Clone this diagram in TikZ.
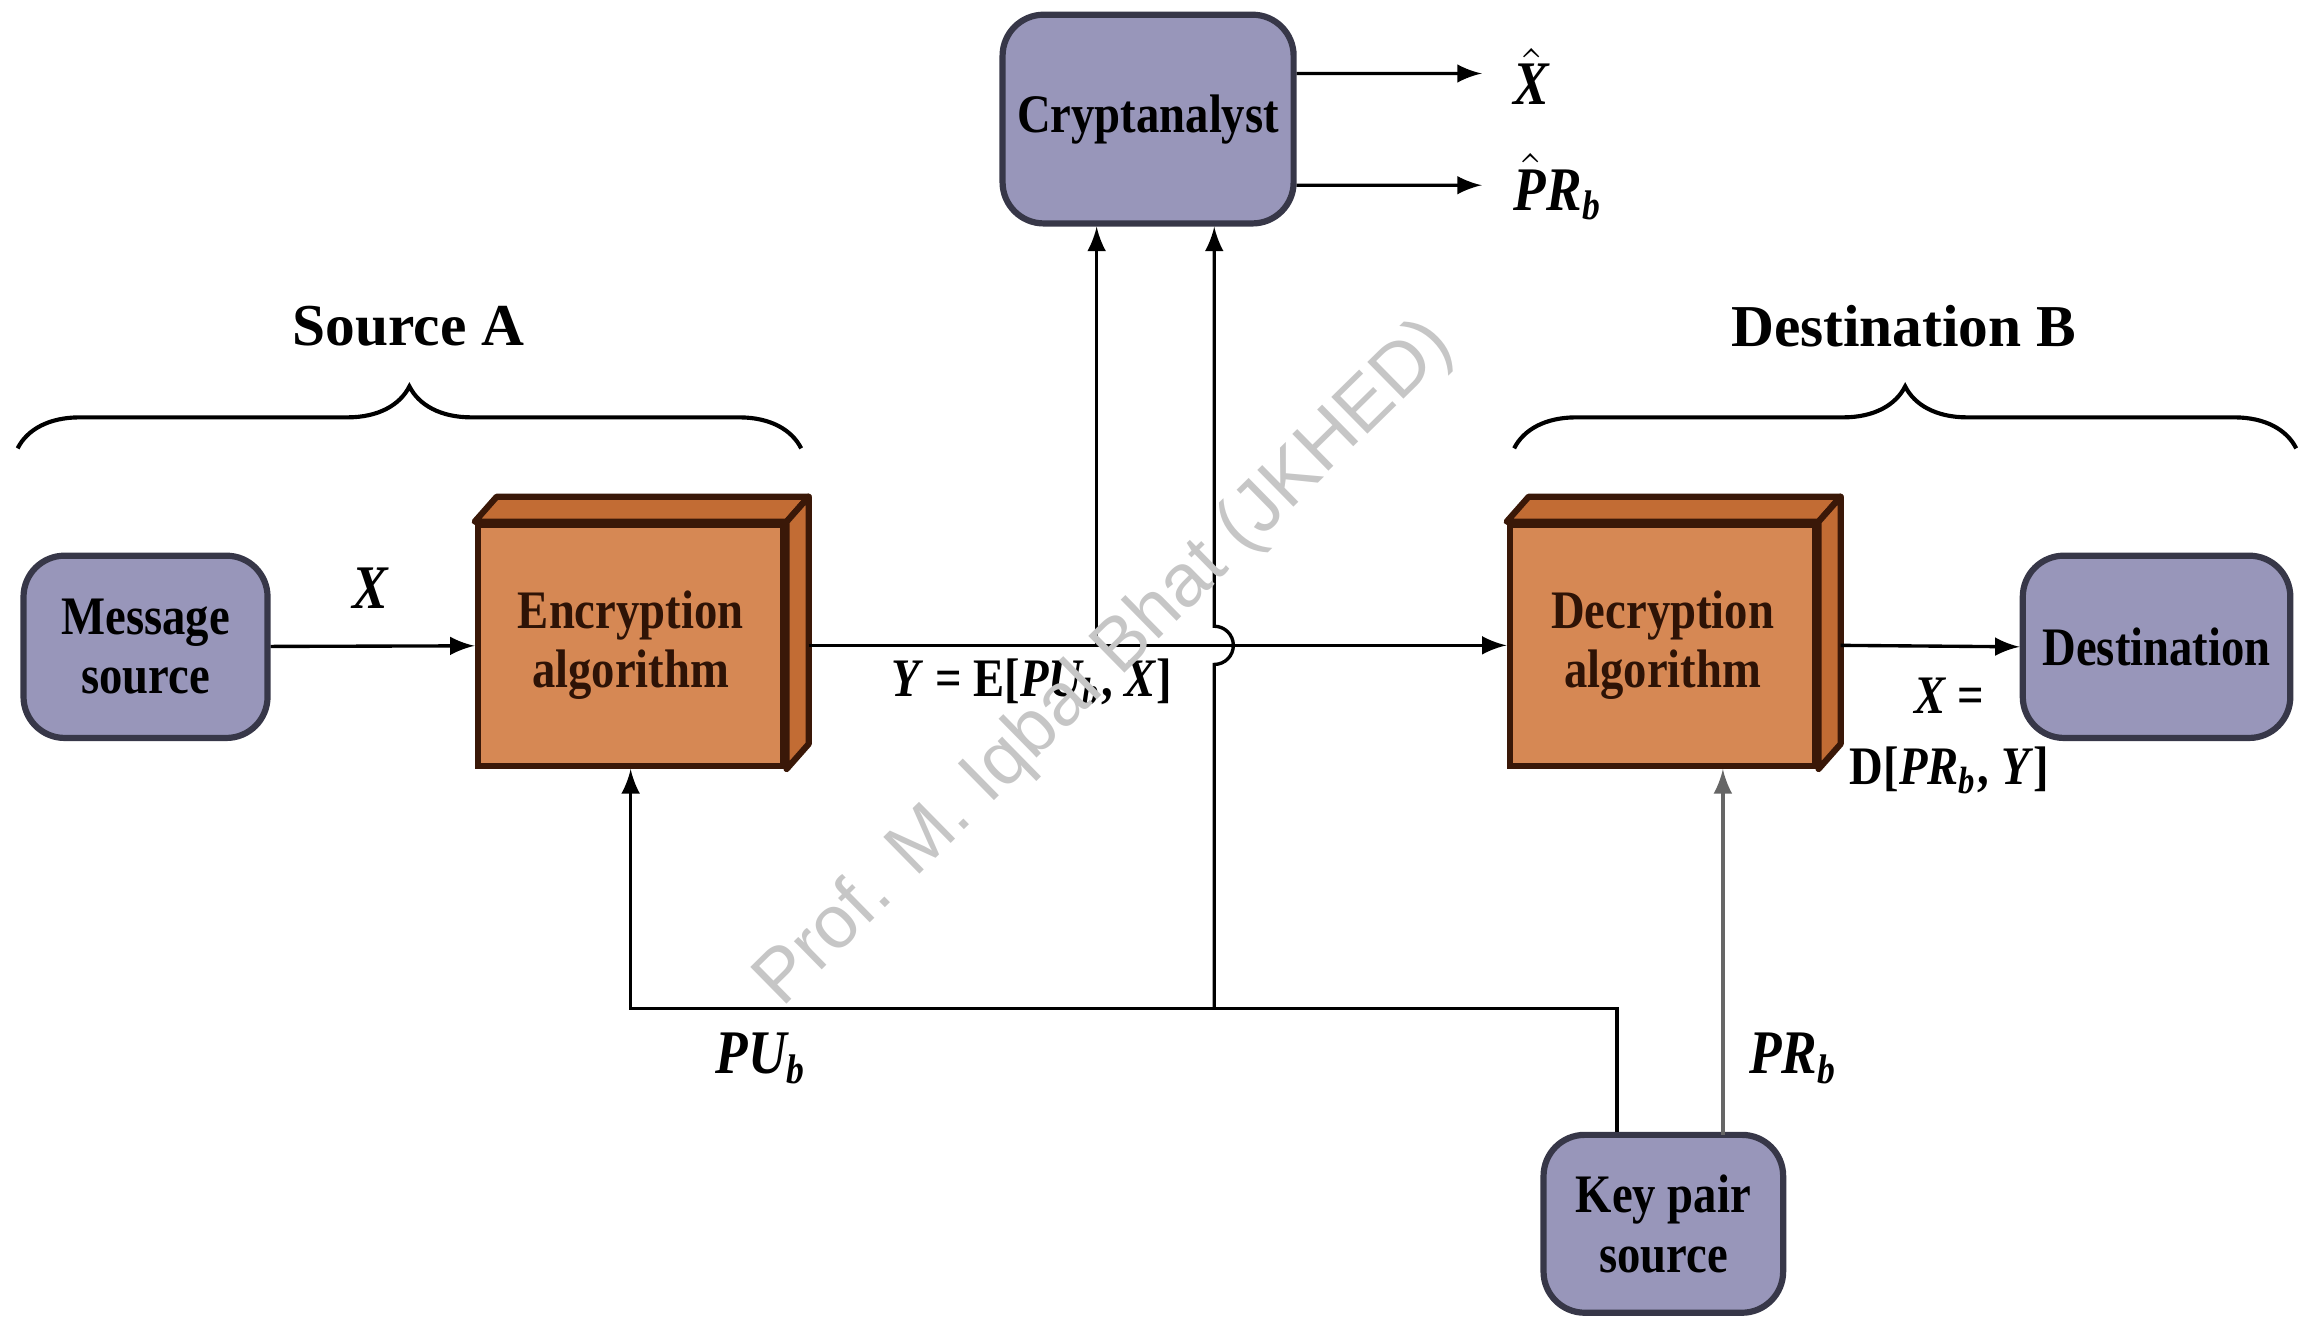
\documentclass[tikz,border=0pt]{standalone}
\usepackage{amsmath}
\usepackage{fontspec}
\setmainfont{Liberation Serif}
\newfontfamily\boxfont[FakeStretch=0.86]{Liberation Serif}
\newfontfamily\markfont{Liberation Sans}
\usepackage{tikz}
\usetikzlibrary{positioning}
\usetikzlibrary{calc,decorations.pathreplacing}

\definecolor{lav}{RGB}{152,150,186}
\definecolor{lavline}{RGB}{55,55,72}
\definecolor{encfront}{RGB}{214,136,84}
\definecolor{enctop}{RGB}{194,108,52}
\definecolor{encline}{RGB}{58,24,8}

\newcommand{\iv}[1]{\textit{#1}}

\begin{document}
\begin{tikzpicture}[
	line width=0.65pt,
	arr/.style={-latex},
	agent/.style={draw=lavline, line width=1.2pt, fill=lav, rounded corners=0.28cm,
		align=center, font=\boxfont\bfseries\fontsize{10.5}{11.5}\selectfont, inner sep=0pt},
	algo/.style={draw=encline, line width=1.2pt, fill=encfront, minimum width=2.08cm,
		minimum height=1.64cm, align=center, text=encline!80!black,
		font=\boxfont\bfseries\fontsize{10.5}{11.5}\selectfont},
	lbl/.style={font=\boxfont\bfseries\fontsize{12}{14}\selectfont},
	eq/.style={font=\boxfont\bfseries\fontsize{10.5}{12}\selectfont, inner sep=1pt},
	brc/.style={decorate, decoration={brace, amplitude=12pt}, line width=0.8pt}
	]

	\useasboundingbox (0,0) rectangle (15.68,8.97);

	%Vertices
	\node[agent, minimum width=1.66cm, minimum height=1.24cm] (msg) at (0.99,4.57) {Message\\source};
	\node[algo] (enc) at (4.29,4.58) {Encryption\\algorithm};
	\node[agent, minimum width=1.98cm, minimum height=1.42cm] (crypt) at (7.81,8.16) {Cryptanalyst};
	\node[algo] (dec) at (11.31,4.58) {Decryption\\algorithm};
	\node[agent, minimum width=1.82cm, minimum height=1.24cm] (dest) at (14.67,4.57) {Destination};
	\node[agent, minimum width=1.63cm, minimum height=1.21cm] (keys) at (11.315,0.645) {Key pair\\source};

	%Box depth
	\foreach \b in {enc,dec}{
		\draw[line width=1.2pt, draw=encline, fill=enctop, line join=round]
			(\b.north west) -- ++(0.15,0.17) -- ($(\b.north east)+(0.15,0.17)$) -- (\b.north east) -- cycle;
		\draw[line width=1.2pt, draw=encline, fill=enctop, line join=round]
			(\b.north east) -- ++(0.15,0.17) -- ($(\b.south east)+(0.15,0.17)$) -- (\b.south east) -- cycle;
	}

	%Labels
	\node[font=\bfseries\fontsize{11.5}{13}\selectfont] (srcA) at (2.78,6.75) {Source A};
	\node[font=\bfseries\fontsize{11.5}{13}\selectfont] (dstB) at (12.95,6.75) {Destination B};
	\node[lbl] (xlab) at (2.52,4.97) {\iv{X}};
	\node[lbl, inner sep=0pt] (xhat) at (10.42,8.45) {\(\hat{\text{\iv{X}}}\)};
	\node[lbl, inner sep=0pt] (prhat) at (10.60,7.70) {\(\hat{\text{\iv{P}}}\)\iv{R\textsubscript{b}}};
	\node[eq] (ylab) at (7.02,4.33) {\iv{Y} = E[\iv{PU\textsubscript{b}}, \iv{X}]};
	\node[eq] (xeq) at (13.26,4.24) {\iv{X} =};
	\node[eq] (dlab) at (13.26,3.73) {D[\iv{PR\textsubscript{b}}, \iv{Y}]};
	\node[lbl] (pulab) at (5.18,1.77) {\iv{PU\textsubscript{b}}};
	\node[lbl] (prlab) at (12.20,1.77) {\iv{PR\textsubscript{b}}};

	%Braces
	\draw[brc] (0.12,5.92) -- (5.45,5.92);
	\draw[brc] (10.30,5.92) -- (15.62,5.92);

	%Connectors
	\coordinate (yout) at ($(enc.east)+(0.15,0)$);
	\coordinate (dout) at ($(dec.east)+(0.15,0)$);
	\coordinate (ytap) at (7.46,4.58);
	\coordinate (keytap) at (11.00,2.11);
	\coordinate (putap) at (8.26,2.11);
	\coordinate (prtap) at (11.72,1.25);

	\draw[arr] (msg) -- (enc);
	\draw[arr] (yout) -- (dec.west);
	\draw[arr] (dout) -- (dest.west);
	\draw[arr] (ytap) -- (ytap |- crypt.south);
	\draw[arr] ($(crypt.east)+(0,0.31)$) -- (10.08,8.47);
	\draw[arr] ($(crypt.east)+(0,-0.45)$) -- (10.08,7.71);
	\draw[arr] (keys.north -| keytap) -- (keytap) -- (putap) -- (putap -| enc.south) -- (enc.south);
	\draw[arr] (putap) -- (8.26,4.45) arc[start angle=-90, end angle=90, radius=0.13] -- (crypt.south -| putap);
	\draw[arr, draw=gray!80!black] (prtap) -- (prtap |- dec.south);

	%Watermark
	\node[rotate=44.5, text=gray!45, font=\markfont\fontsize{14.5}{17}\selectfont] (wmark) at (7.52,4.45) {Prof. M. Iqbal Bhat (JKHED)};

\end{tikzpicture}
\end{document}
